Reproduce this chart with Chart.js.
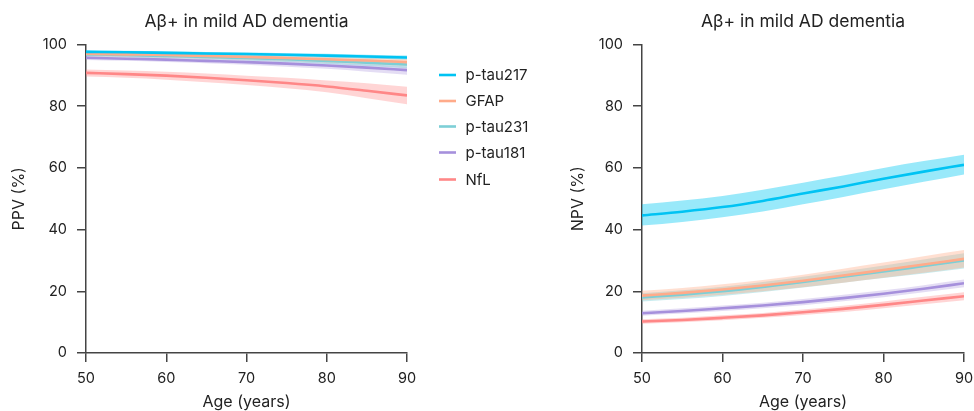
<!DOCTYPE html>
<html>
<head>
<meta charset="utf-8">
<script src="https://cdn.jsdelivr.net/npm/chart.js@4.4.1/dist/chart.umd.min.js"></script>
<style>
  html, body { margin:0; padding:0; background:#fff; }
  #wrap { position:relative; width:974px; height:411px; }
  canvas { position:absolute; top:0; }
</style>
</head>
<body>
<div id="wrap">
  <canvas id="ppv" style="left:0px" width="560" height="411"></canvas>
  <canvas id="npv" style="left:560px" width="414" height="411"></canvas>
</div>
<script>
// ---------- DATA ----------
const ages = [50, 55, 60, 65, 70, 75, 80, 85, 90];
const seriesNames = ['p-tau217', 'GFAP', 'p-tau231', 'p-tau181', 'NfL'];
const yTicks = [0, 20, 40, 60, 80, 100];
const xTicks = [50, 60, 70, 80, 90];

// PPV (%) – left panel
const ppvPtau217 = [97.6, 97.5, 97.3, 97.1, 96.9, 96.7, 96.4, 96.1, 95.8];
const ppvPtau217Lo = [97.1, 97.0, 96.8, 96.6, 96.4, 96.1, 95.8, 95.5, 95.1];
const ppvPtau217Hi = [98.1, 98.0, 97.8, 97.6, 97.4, 97.2, 97.0, 96.7, 96.4];
const ppvGfap = [97.0, 96.8, 96.6, 96.3, 96.0, 95.6, 95.2, 94.8, 94.3];
const ppvGfapLo = [96.3, 96.1, 95.8, 95.5, 95.1, 94.7, 94.2, 93.7, 93.1];
const ppvGfapHi = [97.7, 97.5, 97.3, 97.1, 96.8, 96.5, 96.2, 95.8, 95.4];
const ppvPtau231 = [96.8, 96.6, 96.3, 96.0, 95.6, 95.2, 94.7, 94.1, 93.5];
const ppvPtau231Lo = [96.1, 95.9, 95.6, 95.2, 94.8, 94.3, 93.7, 93.0, 92.3];
const ppvPtau231Hi = [97.5, 97.3, 97.0, 96.8, 96.4, 96.0, 95.6, 95.1, 94.6];
const ppvPtau181 = [95.7, 95.4, 95.1, 94.7, 94.3, 93.8, 93.2, 92.5, 91.7];
const ppvPtau181Lo = [95.0, 94.7, 94.3, 93.9, 93.4, 92.8, 92.1, 91.2, 90.2];
const ppvPtau181Hi = [96.3, 96.1, 95.8, 95.5, 95.1, 94.7, 94.2, 93.6, 92.9];
const ppvNfl = [90.8, 90.4, 89.9, 89.2, 88.4, 87.5, 86.4, 85.0, 83.5];
const ppvNflLo = [89.6, 89.2, 88.6, 87.8, 86.9, 85.8, 84.5, 82.6, 80.6];
const ppvNflHi = [91.9, 91.6, 91.2, 90.6, 89.9, 89.2, 88.3, 87.4, 86.3];

// NPV (%) – right panel
const npvPtau217 = [44.6, 45.8, 47.3, 49.3, 51.7, 54.0, 56.5, 58.8, 61.0];
const npvPtau217Lo = [41.3, 42.5, 44.0, 45.9, 48.2, 50.6, 53.1, 55.5, 57.9];
const npvPtau217Hi = [48.2, 49.4, 50.9, 52.9, 55.2, 57.5, 60.0, 62.2, 64.3];
const npvGfap = [18.6, 19.5, 20.6, 21.9, 23.4, 25.1, 26.9, 28.7, 30.5];
const npvGfapLo = [17.1, 17.9, 18.9, 20.0, 21.3, 22.8, 24.4, 26.0, 27.7];
const npvGfapHi = [20.2, 21.1, 22.3, 23.7, 25.4, 27.3, 29.3, 31.4, 33.4];
const npvPtau231 = [18.0, 18.9, 20.0, 21.4, 23.0, 24.7, 26.4, 28.2, 30.0];
const npvPtau231Lo = [16.7, 17.5, 18.5, 19.8, 21.2, 22.8, 24.3, 25.8, 27.4];
const npvPtau231Hi = [19.4, 20.3, 21.5, 23.0, 24.7, 26.5, 28.4, 30.3, 32.3];
const npvPtau181 = [12.9, 13.6, 14.5, 15.4, 16.5, 17.8, 19.2, 20.8, 22.6];
const npvPtau181Lo = [12.1, 12.8, 13.6, 14.5, 15.5, 16.8, 18.1, 19.7, 21.3];
const npvPtau181Hi = [13.7, 14.5, 15.4, 16.3, 17.5, 18.9, 20.3, 22.0, 23.8];
const npvNfl = [10.2, 10.7, 11.4, 12.2, 13.2, 14.3, 15.6, 17.0, 18.4];
const npvNflLo = [9.5, 10.0, 10.6, 11.4, 12.3, 13.3, 14.5, 15.8, 17.1];
const npvNflHi = [10.9, 11.4, 12.2, 13.0, 14.1, 15.3, 16.7, 18.2, 19.7];

// ---------- STYLE ----------
const lineColors = ['#00c3f3', '#ffab8a', '#7dcfd6', '#a690dc', '#ff8787'];
const bandColors = ['rgba(0,200,242,0.40)', 'rgba(255,170,135,0.38)', 'rgba(125,207,214,0.42)', 'rgba(166,144,220,0.30)', 'rgba(255,135,135,0.35)'];
const FONT = 'Inter, "Noto Sans", sans-serif';
const AXIS = '#444';
const TEXT = '#222';

function toPts(arr) { return arr.map((v, i) => ({ x: ages[i], y: v })); }

function buildDatasets(mid, lo, hi) {
  const ds = [];
  for (let s = 0; s < mid.length; s++) {
    ds.push({ label: seriesNames[s] + ' hi', data: toPts(hi[s]), borderWidth: 0, pointRadius: 0,
      backgroundColor: bandColors[s], fill: '+1', order: 20 + s, cubicInterpolationMode: 'monotone' });
    ds.push({ label: seriesNames[s] + ' lo', data: toPts(lo[s]), borderWidth: 0, pointRadius: 0,
      backgroundColor: bandColors[s], fill: false, order: 20 + s, cubicInterpolationMode: 'monotone' });
  }
  for (let s = 0; s < mid.length; s++) {
    ds.push({ label: seriesNames[s], data: toPts(mid[s]), borderColor: lineColors[s], borderWidth: 2.6,
      pointRadius: 0, fill: false, order: s, cubicInterpolationMode: 'monotone' });
  }
  return ds;
}

function textPlugin(cfg) {
  return {
    id: 'texts',
    afterDraw(chart) {
      const ctx = chart.ctx, a = chart.chartArea;
      ctx.save();
      ctx.fillStyle = TEXT;
      ctx.textAlign = 'center';
      ctx.textBaseline = 'middle';
      ctx.font = '17.5px ' + FONT;
      ctx.fillText(cfg.title, (a.left + a.right) / 2, 21.5);
      ctx.font = '16px ' + FONT;
      ctx.fillText(cfg.xTitle, (a.left + a.right) / 2, 402);
      ctx.save();
      ctx.translate(cfg.yTitleX, (a.top + a.bottom) / 2);
      ctx.rotate(-Math.PI / 2);
      ctx.fillText(cfg.yTitle, 0, 0);
      ctx.restore();
      if (cfg.legend) {
        ctx.textAlign = 'left';
        ctx.font = '15px ' + FONT;
        const ys = [75, 101, 126.5, 152.5, 179.5];
        seriesNames.forEach((n, i) => {
          ctx.strokeStyle = lineColors[i];
          ctx.lineWidth = 2.6;
          ctx.beginPath();
          ctx.moveTo(439, ys[i]);
          ctx.lineTo(456, ys[i]);
          ctx.stroke();
          ctx.fillStyle = TEXT;
          ctx.fillText(n, 465.5, ys[i] + 0.5);
        });
      }
      ctx.restore();
    }
  };
}

function makeChart(id, mid, lo, hi, opts) {
  return new Chart(document.getElementById(id), {
    type: 'line',
    data: { datasets: buildDatasets(mid, lo, hi) },
    options: {
      responsive: false,
      animation: false,
      layout: { padding: { left: 0, right: opts.padRight, top: 44.5, bottom: 0 } },
      plugins: { legend: { display: false }, tooltip: { enabled: false }, title: { display: false } },
      scales: {
        x: {
          type: 'linear', min: 50, max: 90,
          afterBuildTicks(s) { s.ticks = xTicks.map(v => ({ value: v })); },
          afterFit(s) { s.height = 58; s.paddingLeft = 0; s.paddingRight = 0; },
          border: { display: true, color: AXIS, width: 1.5 },
          grid: { display: true, drawOnChartArea: false, drawTicks: true, tickLength: 9, color: AXIS, lineWidth: 1.5 },
          ticks: { color: TEXT, font: { family: FONT, size: 14.5 }, padding: 8, maxRotation: 0 }
        },
        y: {
          min: 0, max: 100,
          afterBuildTicks(s) { s.ticks = yTicks.map(v => ({ value: v })); },
          afterFit(s) { s.width = opts.yWidth; s.paddingTop = 0; s.paddingBottom = 0; },
          border: { display: true, color: AXIS, width: 1.5 },
          grid: { display: true, drawOnChartArea: false, drawTicks: true, tickLength: 9, color: AXIS, lineWidth: 1.5 },
          ticks: { color: TEXT, font: { family: FONT, size: 14.5 }, padding: 10 }
        }
      }
    },
    plugins: [textPlugin(opts)]
  });
}

makeChart('ppv',
  [ppvPtau217, ppvGfap, ppvPtau231, ppvPtau181, ppvNfl],
  [ppvPtau217Lo, ppvGfapLo, ppvPtau231Lo, ppvPtau181Lo, ppvNflLo],
  [ppvPtau217Hi, ppvGfapHi, ppvPtau231Hi, ppvPtau181Hi, ppvNflHi],
  { title: 'Aβ+ in mild AD dementia', xTitle: 'Age (years)', yTitle: 'PPV (%)', yTitleX: 19, yWidth: 86, padRight: 153, legend: true });

makeChart('npv',
  [npvPtau217, npvGfap, npvPtau231, npvPtau181, npvNfl],
  [npvPtau217Lo, npvGfapLo, npvPtau231Lo, npvPtau181Lo, npvNflLo],
  [npvPtau217Hi, npvGfapHi, npvPtau231Hi, npvPtau181Hi, npvNflHi],
  { title: 'Aβ+ in mild AD dementia', xTitle: 'Age (years)', yTitle: 'NPV (%)', yTitleX: 18, yWidth: 82, padRight: 10, legend: false });
</script>
</body>
</html>
